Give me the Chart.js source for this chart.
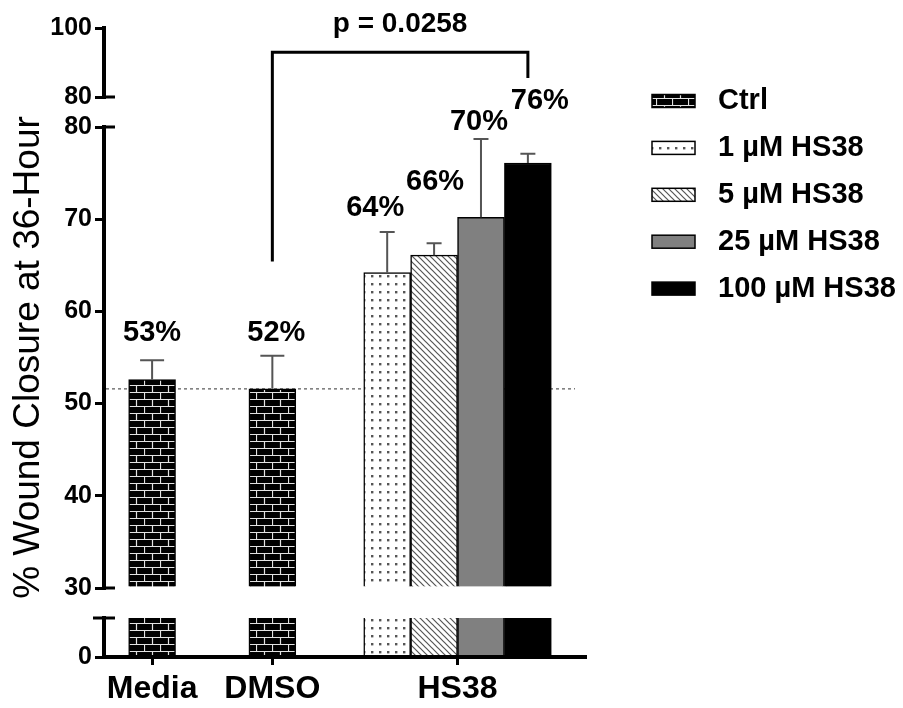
<!DOCTYPE html>
<html>
<head>
<meta charset="utf-8">
<title>Wound closure at 36 h</title>
<script src="https://cdn.jsdelivr.net/npm/chart.js@4.4.1/dist/chart.umd.min.js"></script>
<style>
  html, body { margin: 0; padding: 0; background: #fff; }
</style>
</head>
<body>
<canvas id="chart" width="903" height="708"></canvas>
<script>
const groups = ["Media", "DMSO", "HS38"];
const doses = ["1 µM HS38", "5 µM HS38", "25 µM HS38", "100 µM HS38"];

// mean % wound closure and SEM
const ctrlMean = [52.6, 51.6];
const ctrlSem = [2.1, 3.6];
const doseMean = [64.2, 66.1, 70.2, 76.1];
const doseSem = [4.4, 1.3, 8.5, 1.0];

// broken y axis: three segments
const topRange = [80, 100];
const midRange = [30, 80];
const lowRange = [0, 5];
const topTicks = [80, 100];
const midTicks = [30, 40, 50, 60, 70, 80];
const lowTicks = [0];

// DMSO vs 100 µM comparison
const pText = "p = 0.0258";
const bracketY = 93;
const bracketLeftEnd = 65.4;
const bracketRightEnd = 85.5;

// layout
const GROUP_X = [1, 2, 3.54];
const BAR_W = 0.39;
const AXIS_W = 104;
const X_AXIS_H = 51;
const FONT = '"Liberation Sans", Arial, sans-serif';
const LABEL_NUDGE = [[0, 27], [4, 23], [-12, 24], [1, 61], [-2, 17], [12, 53]];

Chart.defaults.font.family = FONT;

function makePattern(w, h, paint) {
  const c = document.createElement("canvas");
  c.width = w;
  c.height = h;
  const g = c.getContext("2d");
  paint(g, w, h);
  return g.createPattern(c, "repeat");
}

const brick = makePattern(16, 14, (g, w, h) => {
  g.fillStyle = "#000";
  g.fillRect(0, 0, w, h);
  g.strokeStyle = "#e2e2e2";
  g.lineWidth = 1.2;
  g.beginPath();
  g.moveTo(0, 0.5); g.lineTo(w, 0.5);
  g.moveTo(0, 7.5); g.lineTo(w, 7.5);
  g.moveTo(0.5, 0); g.lineTo(0.5, 7);
  g.moveTo(8.5, 7); g.lineTo(8.5, 14);
  g.stroke();
});

const dots = makePattern(8, 8, (g, w, h) => {
  g.fillStyle = "#fff";
  g.fillRect(0, 0, w, h);
  g.fillStyle = "#555";
  g.fillRect(3, 3, 2.4, 2.4);
});

const hatch = makePattern(6, 6, (g, w, h) => {
  g.fillStyle = "#fff";
  g.fillRect(0, 0, w, h);
  g.strokeStyle = "#555";
  g.lineWidth = 1.2;
  g.beginPath();
  g.moveTo(0, 0); g.lineTo(6, 6);
  g.moveTo(-3, 3); g.lineTo(3, 9);
  g.moveTo(3, -3); g.lineTo(9, 3);
  g.stroke();
});

const doseFills = [dots, hatch, "#808080", "#000"];

const series = [
  { label: "Ctrl", x: [GROUP_X[0], GROUP_X[1]], y: ctrlMean, sem: ctrlSem, fill: brick, cap: 12 },
  ...doses.map((label, i) => ({
    label,
    x: [GROUP_X[2] + (i - 1.5) * BAR_W],
    y: [doseMean[i]],
    sem: [doseSem[i]],
    fill: doseFills[i],
    cap: 7.5
  }))
];

// every bar is drawn twice: on the 30-80 segment and on the short 0 segment
const datasets = [];
series.forEach(s => {
  datasets.push({
    label: s.label,
    yAxisID: "yMid",
    base: midRange[0],
    data: s.y.map((v, i) => ({ x: s.x[i], y: v })),
    sem: s.sem,
    cap: s.cap,
    backgroundColor: s.fill,
    borderColor: "#000",
    borderWidth: { left: 1.5, right: 1.5, top: 1.5, bottom: 0 }
  });
  datasets.push({
    label: s.label,
    yAxisID: "yLow",
    data: s.y.map((v, i) => ({ x: s.x[i], y: Math.min(v, lowRange[1]) })),
    backgroundColor: s.fill,
    borderColor: "#000",
    borderWidth: { left: 1.5, right: 1.5, top: 0, bottom: 0 }
  });
});

const tickFont = { family: FONT, size: 25, weight: "bold" };

function segAxis(range, ticks, weight, extra) {
  return Object.assign({
    type: "linear",
    position: "left",
    stack: "y",
    stackWeight: weight,
    min: range[0],
    max: range[1],
    afterBuildTicks: s => { s.ticks = ticks.map(value => ({ value })); },
    afterFit: s => { s.width = AXIS_W; },
    grid: { drawOnChartArea: false, drawTicks: true, tickLength: 9, lineWidth: 3, color: "#000" },
    border: { display: true, width: 4, color: "#000" },
    ticks: { font: tickFont, color: "#000", padding: 3 }
  }, extra || {});
}

function gapAxis(weight) {
  return {
    type: "linear",
    position: "left",
    stack: "y",
    stackWeight: weight,
    min: 0,
    max: 1,
    afterFit: s => { s.width = AXIS_W; },
    grid: { display: false },
    border: { display: false },
    ticks: { display: false }
  };
}

function midMetas(chart) {
  return chart.data.datasets
    .map((ds, i) => ({ ds, meta: chart.getDatasetMeta(i) }))
    .filter(o => o.ds.yAxisID === "yMid");
}

const decorations = {
  id: "decorations",
  beforeDatasetsDraw(chart) {
    // dashed reference line at the DMSO level
    const { ctx, chartArea, scales } = chart;
    const y = scales.yMid.getPixelForValue(ctrlMean[1]);
    ctx.save();
    ctx.strokeStyle = "#777";
    ctx.lineWidth = 1.5;
    ctx.setLineDash([3, 3]);
    ctx.beginPath();
    ctx.moveTo(chartArea.left + 2, y);
    ctx.lineTo(chartArea.right - 10, y);
    ctx.stroke();
    ctx.restore();
  },
  afterDatasetsDraw(chart) {
    // upper SEM whiskers
    const { ctx, scales } = chart;
    ctx.save();
    ctx.strokeStyle = "#555";
    ctx.lineWidth = 2;
    midMetas(chart).forEach(({ ds, meta }) => {
      meta.data.forEach((bar, j) => {
        const v = ds.data[j].y;
        const y0 = scales.yMid.getPixelForValue(v);
        const y1 = scales.yMid.getPixelForValue(v + ds.sem[j]);
        ctx.beginPath();
        ctx.moveTo(bar.x, y0);
        ctx.lineTo(bar.x, y1);
        ctx.moveTo(bar.x - ds.cap, y1);
        ctx.lineTo(bar.x + ds.cap, y1);
        ctx.stroke();
      });
    });
    ctx.restore();
  },
  afterDraw(chart) {
    const { ctx, chartArea, scales } = chart;
    const ax = chartArea.left;
    ctx.save();

    // caps at the axis breaks
    ctx.strokeStyle = "#000";
    ctx.lineWidth = 3;
    ctx.beginPath();
    [scales.yTop.bottom, scales.yMid.top, scales.yMid.bottom].forEach(y => {
      ctx.moveTo(ax, y);
      ctx.lineTo(ax + 11, y);
    });
    ctx.moveTo(ax - 11, scales.yLow.top);
    ctx.lineTo(ax + 11, scales.yLow.top);
    ctx.stroke();

    // value labels
    const mids = midMetas(chart);
    ctx.fillStyle = "#000";
    ctx.font = "bold 29px " + FONT;
    ctx.textAlign = "center";
    ctx.textBaseline = "middle";
    let k = 0;
    mids.forEach(({ ds, meta }) => {
      meta.data.forEach((bar, j) => {
        const v = ds.data[j].y;
        const yTop = scales.yMid.getPixelForValue(v + ds.sem[j]);
        const [dx, dy] = LABEL_NUDGE[k++];
        ctx.fillText(Math.round(v) + "%", bar.x + dx, yTop - dy);
      });
    });

    // significance bracket
    const xL = mids[0].meta.data[1].x;
    const xR = mids[mids.length - 1].meta.data[0].x;
    const yB = scales.yTop.getPixelForValue(bracketY);
    ctx.lineWidth = 3;
    ctx.lineJoin = "miter";
    ctx.beginPath();
    ctx.moveTo(xL, scales.yMid.getPixelForValue(bracketLeftEnd));
    ctx.lineTo(xL, yB);
    ctx.lineTo(xR, yB);
    ctx.lineTo(xR, scales.yTop.getPixelForValue(bracketRightEnd));
    ctx.stroke();
    ctx.font = "bold 28px " + FONT;
    ctx.fillText(pText, (xL + xR) / 2, yB - 28);

    // legend
    ctx.textAlign = "left";
    ctx.font = "bold 29px " + FONT;
    mids.forEach(({ ds }, i) => {
      const y = 101 + i * 46.9;
      ctx.fillStyle = ds.backgroundColor;
      ctx.fillRect(652, y - 6.5, 43, 13);
      ctx.lineWidth = 1.5;
      ctx.strokeRect(652, y - 6.5, 43, 13);
      ctx.fillStyle = "#000";
      ctx.fillText(ds.label, 718, y);
    });

    ctx.restore();
  }
};

new Chart(document.getElementById("chart"), {
  type: "bar",
  data: { datasets },
  options: {
    responsive: false,
    animation: false,
    events: [],
    grouped: false,
    barPercentage: 1,
    categoryPercentage: 1,
    layout: { padding: { top: 28, right: 318, bottom: 0, left: 0 } },
    plugins: {
      legend: { display: false },
      tooltip: { enabled: false }
    },
    scales: {
      x: {
        type: "linear",
        min: 0.6,
        max: 4.6,
        offset: false,
        afterBuildTicks: s => { s.ticks = GROUP_X.map(value => ({ value })); },
        afterFit: s => { s.height = X_AXIS_H; },
        grid: { offset: false, drawOnChartArea: false, drawTicks: true, tickLength: 8, lineWidth: 3, color: "#000" },
        border: { width: 4, color: "#000", z: 1 },
        ticks: {
          font: { family: FONT, size: 32, weight: "bold" },
          color: "#000",
          padding: 5,
          autoSkip: false,
          maxRotation: 0,
          callback: (v, i) => groups[i]
        }
      },
      yLow: segAxis(lowRange, lowTicks, 39),
      gapLow: gapAxis(30),
      yMid: segAxis(midRange, midTicks, 461, {
        title: {
          display: true,
          text: "% Wound Closure at 36-Hour",
          font: { family: FONT, size: 37 },
          color: "#000",
          padding: { top: 7, bottom: 13 }
        }
      }),
      gapTop: gapAxis(30),
      yTop: segAxis(topRange, topTicks, 69)
    }
  },
  plugins: [decorations]
});
</script>
</body>
</html>
